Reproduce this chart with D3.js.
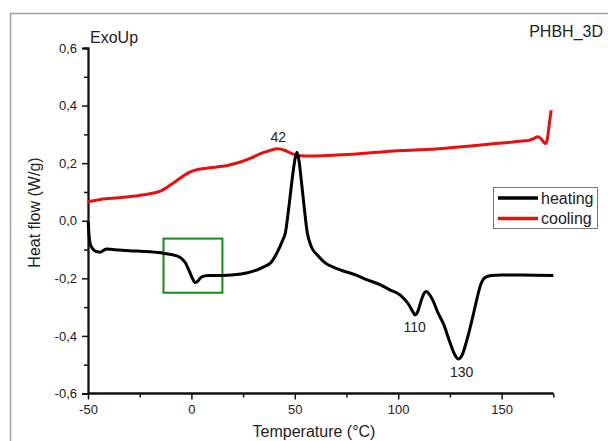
<!DOCTYPE html>
<html><head><meta charset="utf-8">
<script src="https://cdn.jsdelivr.net/npm/d3@7"></script>
<style>body{margin:0;background:#fff}svg{display:block}text{font-family:"Liberation Sans",Arial,sans-serif;fill:#222}</style>
</head><body><svg id="c" width="608" height="441"></svg>
<script>
const heatT = [-49.9,-49.5,-49,-48,-47,-45.5,-44,-42.5,-41,-39,-35,-30,-20,-13.5,-8,-5,-3,-1,0.5,1.8,3,5,8,15,24,30,35,38.5,41.5,44,45.5,47,49,50,51,52,53,54.5,56,58,61,65,70,80,85,91.5,96,101,105,107,108.2,109.5,111,112.5,113.7,115,117,119,122,124.6,127,129,131,133,134.5,136.5,138.3,140,142,145,150,160,175];
const heatY = [-0.005,-0.05,-0.078,-0.095,-0.103,-0.108,-0.109,-0.103,-0.098,-0.099,-0.102,-0.104,-0.108,-0.113,-0.12,-0.13,-0.145,-0.175,-0.2,-0.215,-0.21,-0.195,-0.19,-0.19,-0.185,-0.175,-0.16,-0.145,-0.11,-0.07,-0.04,0.04,0.16,0.21,0.238,0.21,0.15,0.05,-0.04,-0.09,-0.12,-0.148,-0.165,-0.19,-0.205,-0.223,-0.24,-0.258,-0.29,-0.315,-0.327,-0.315,-0.28,-0.252,-0.246,-0.255,-0.28,-0.316,-0.36,-0.414,-0.46,-0.48,-0.465,-0.42,-0.38,-0.32,-0.264,-0.22,-0.197,-0.19,-0.188,-0.188,-0.19];
const coolT = [-50,-44,-35,-25,-20,-15,-10,-7,-4,-1,3,8,12.4,18,23.7,29,33.4,37,41.5,45,48,51,54.7,60,70.6,80,90,99.6,108,115.7,124,132,140,147,154.6,160,163,165.5,167.5,169,170.5,171.3,172,172.8,173.5,174];
const coolY = [0.066,0.074,0.08,0.088,0.094,0.103,0.125,0.14,0.155,0.168,0.178,0.183,0.187,0.193,0.204,0.218,0.233,0.242,0.25,0.245,0.235,0.228,0.225,0.225,0.228,0.232,0.238,0.243,0.246,0.248,0.253,0.258,0.263,0.268,0.273,0.277,0.279,0.285,0.292,0.285,0.272,0.268,0.28,0.32,0.36,0.384];
const xMajor = [-50,0,50,100,150];
const xMinor = [-25,25,75,125,175];
const yMajor = [-0.6,-0.4,-0.2,0.0,0.2,0.4,0.6];
const yMinor = [-0.5,-0.3,-0.1,0.1,0.3,0.5];
const seriesNames = ["heating","cooling"];
const seriesColors = ["#000000","#e8100f"];
const peakLabels = [{t:42,x:42,y:0.275},{t:110,x:108,y:-0.388},{t:130,x:130.7,y:-0.542}];
const boxX = [-13.5,15], boxY = [-0.062,-0.25];

const svg = d3.select("#c");
const x = d3.scaleLinear().domain([-50,175]).range([88,553.3]);
const y = d3.scaleLinear().domain([-0.6,0.6]).range([393.5,48]);
const fmt = v => d3.format(".1f")(v).replace(".",",").replace("\u2212","-");

// frame
svg.append("line").attr("x1",10).attr("x2",608).attr("y1",13.5).attr("y2",13.5).attr("stroke","#a0a0a0").attr("stroke-width",1.5);
svg.append("line").attr("x1",10.5).attr("x2",10.5).attr("y1",13).attr("y2",441).attr("stroke","#a0a0a0").attr("stroke-width",1.5);

// axes
const gx = svg.append("g").attr("transform","translate(0,393.5)");
gx.call(d3.axisBottom(x).tickValues(xMajor).tickSize(6).tickPadding(5).tickFormat(d=>String(d)));
gx.append("g").call(d3.axisBottom(x).tickValues(xMinor).tickSize(4).tickFormat(""));
const gy = svg.append("g").attr("transform","translate(88,0)");
gy.call(d3.axisLeft(y).tickValues(yMajor).tickSize(6).tickPadding(5).tickFormat(fmt));
gy.append("g").call(d3.axisLeft(y).tickValues(yMinor).tickSize(4).tickFormat(""));
svg.selectAll(".domain").attr("stroke","#111").attr("stroke-width",1.8);
svg.selectAll(".tick line").attr("stroke","#111").attr("stroke-width",1.5);
svg.selectAll(".tick text").attr("font-size",13).attr("font-family","Liberation Sans, Arial, sans-serif").attr("fill","#222");
gx.selectAll(".domain").attr("d","M88,0H553.3");

// green box
svg.append("rect").attr("x",x(boxX[0])).attr("y",y(boxY[0])).attr("width",x(boxX[1])-x(boxX[0])).attr("height",y(boxY[1])-y(boxY[0]))
  .attr("fill","none").attr("stroke","#168a16").attr("stroke-width",2);

const line = d3.line().x(d=>x(d[0])).y(d=>y(d[1])).curve(d3.curveMonotoneX);
svg.append("path").datum(coolT.map((t,i)=>[t,coolY[i]])).attr("d",line).attr("fill","none").attr("stroke",seriesColors[1]).attr("stroke-width",3).attr("stroke-linejoin","round");
svg.append("path").datum(heatT.map((t,i)=>[t,heatY[i]])).attr("d",line).attr("fill","none").attr("stroke",seriesColors[0]).attr("stroke-width",3).attr("stroke-linejoin","round");

// peak labels
peakLabels.forEach(p=>{
  svg.append("text").attr("x",x(p.x)).attr("y",y(p.y)).attr("text-anchor","middle").attr("font-size",14).text(p.t);
});

// titles
svg.append("text").attr("x",90).attr("y",43).attr("font-size",16).text("ExoUp");
svg.append("text").attr("x",603).attr("y",37).attr("text-anchor","end").attr("font-size",16).text("PHBH_3D");
svg.append("text").attr("x",314).attr("y",437).attr("text-anchor","middle").attr("font-size",16).text("Temperature (°C)");
svg.append("text").attr("transform","translate(39.5,212.5) rotate(-90)").attr("text-anchor","middle").attr("font-size",16).text("Heat flow (W/g)");

// legend
const lg = svg.append("g");
lg.append("rect").attr("x",493.5).attr("y",187.5).attr("width",104).attr("height",41).attr("fill","#fff").attr("stroke","#777").attr("stroke-width",1);
seriesNames.forEach((n,i)=>{
  const yy = 198+i*20.5;
  lg.append("line").attr("x1",498).attr("x2",538).attr("y1",yy).attr("y2",yy).attr("stroke",seriesColors[i]).attr("stroke-width",3.5);
  lg.append("text").attr("x",541).attr("y",yy+5.5).attr("font-size",16).text(n);
});
</script></body></html>
